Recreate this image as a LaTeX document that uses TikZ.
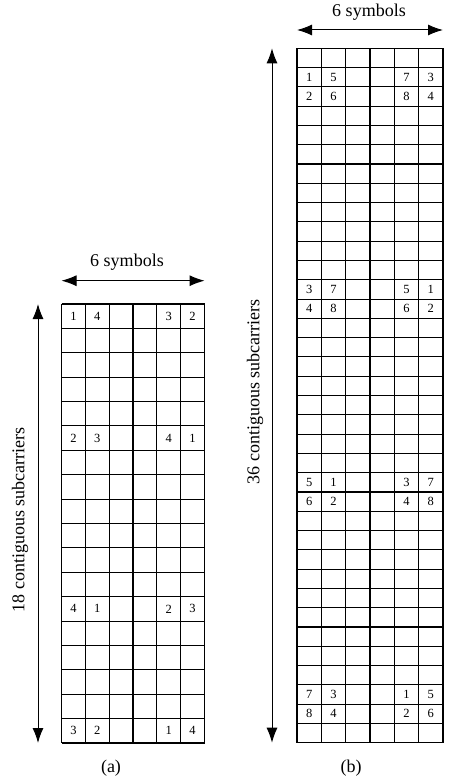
\documentclass[tikz,border=0pt]{standalone}
\usepackage{fontspec}
\setmainfont{Liberation Serif}
\usetikzlibrary{arrows.meta}
\begin{document}
\begin{tikzpicture}[x=1pt,y=-1pt,
  gridline/.style={line width=1.1pt},
  dimarrow/.style={line width=1pt,{Latex[length=15pt,width=11pt]}-{Latex[length=15pt,width=11pt]}},
  lbl/.style={font=\fontsize{18}{20}\selectfont,inner sep=0pt},
  cellnum/.style={font=\fontsize{12.5}{14}\selectfont,inner sep=0pt}]
\useasboundingbox (0,0) rectangle (449,778);
% ---------- grid (a) ----------
\def\axo{61.5}\def\ayo{304}\def\acw{23.833}\def\arh{24.389}
\foreach \i in {0,...,6}
  \draw[gridline] ({\axo+\i*\acw},\ayo) -- ({\axo+\i*\acw},{\ayo+18*\arh});
\foreach \j in {0,...,18}
  \draw[gridline] (\axo,{\ayo+\j*\arh}) -- ({\axo+6*\acw},{\ayo+\j*\arh});
\foreach \r/\p/\q/\s/\t in {0/1/4/3/2, 5/2/3/4/1, 12/4/1/2/3, 17/3/2/1/4}{
  \node[cellnum] (a-\r-0) at ({\axo+0.5*\acw},{\ayo+(\r+0.5)*\arh}) {\p};
  \node[cellnum] (a-\r-1) at ({\axo+1.5*\acw},{\ayo+(\r+0.5)*\arh}) {\q};
  \node[cellnum] (a-\r-4) at ({\axo+4.5*\acw},{\ayo+(\r+0.5)*\arh}) {\s};
  \node[cellnum] (a-\r-5) at ({\axo+5.5*\acw},{\ayo+(\r+0.5)*\arh}) {\t};
}
\coordinate (aL) at (\axo,280.7);
\coordinate (aR) at ({\axo+6*\acw},280.7);
\draw[dimarrow] (aL) -- (aR);
\node[lbl] (asym) at (127,262) {6 symbols};
\coordinate (aT) at (38,\ayo);
\coordinate (aB) at (38,{\ayo+18*\arh});
\draw[dimarrow] (aT) -- (aB);
\node[lbl,rotate=90] (asub) at (20,520) {18 contiguous subcarriers};
\node[lbl] (acap) at (111,768) {(a)};
% ---------- grid (b) ----------
\def\bxo{297}\def\byo{48.3}\def\bcw{24.333}\def\brh{19.289}
\foreach \i in {0,...,6}
  \draw[gridline] ({\bxo+\i*\bcw},\byo) -- ({\bxo+\i*\bcw},{\byo+36*\brh});
\foreach \j in {0,...,36}
  \draw[gridline] (\bxo,{\byo+\j*\brh}) -- ({\bxo+6*\bcw},{\byo+\j*\brh});
\foreach \r/\p/\q/\s/\t in {1/1/5/7/3, 2/2/6/8/4, 12/3/7/5/1, 13/4/8/6/2, 22/5/1/3/7, 23/6/2/4/8, 33/7/3/1/5, 34/8/4/2/6}{
  \node[cellnum] (b-\r-0) at ({\bxo+0.5*\bcw},{\byo+(\r+0.5)*\brh}) {\p};
  \node[cellnum] (b-\r-1) at ({\bxo+1.5*\bcw},{\byo+(\r+0.5)*\brh}) {\q};
  \node[cellnum] (b-\r-4) at ({\bxo+4.5*\bcw},{\byo+(\r+0.5)*\brh}) {\s};
  \node[cellnum] (b-\r-5) at ({\bxo+5.5*\bcw},{\byo+(\r+0.5)*\brh}) {\t};
}
\coordinate (bL) at (\bxo,30);
\coordinate (bR) at ({\bxo+6*\bcw},30);
\draw[dimarrow] (bL) -- (bR);
\node[lbl] (bsym) at (369,12) {6 symbols};
\coordinate (bT) at (272,\byo);
\coordinate (bB) at (272,{\byo+36*\brh});
\draw[dimarrow] (bT) -- (bB);
\node[lbl,rotate=90] (bsub) at (255,392) {36 contiguous subcarriers};
\node[lbl] (bcap) at (351,768) {(b)};
\end{tikzpicture}
\end{document}
